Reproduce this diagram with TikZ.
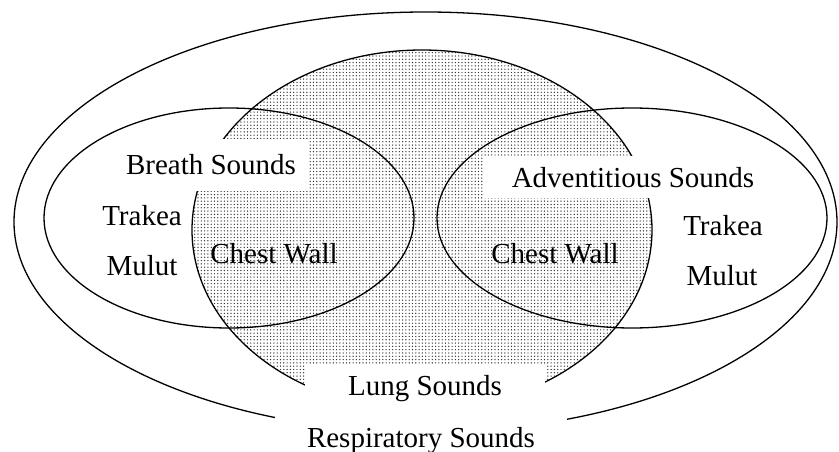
\documentclass[tikz,border=0pt]{standalone}
\usepackage{fontspec}
\setmainfont{Liberation Serif}
\usetikzlibrary{patterns}
\pgfdeclarepatternformonly{lungdots}{\pgfqpoint{-1pt}{-1pt}}{\pgfqpoint{1pt}{1pt}}{\pgfqpoint{3.3pt}{3.3pt}}%
  {\pgfpathcircle{\pgfqpoint{0pt}{0pt}}{0.7pt}\pgfusepath{fill}}

\begin{document}
\begin{tikzpicture}[x=1pt,y=-1pt,
  lbl/.style={font=\fontsize{29}{34}\selectfont,inner sep=0pt,anchor=base},
  cover/.style={lbl,fill=white},
  ring/.style={line width=1.3pt}]
\useasboundingbox (0,0) rectangle (839,452);
% outer set and the shaded lung set
\draw[ring] (425.5,222) ellipse [x radius=411.5,y radius=210];
\draw[ring,pattern=lungdots,pattern color=black!80] (422,230) ellipse [x radius=230,y radius=180];
% titles sit on white boxes that cut the outlines
\node[cover,inner xsep=12pt,inner ysep=16pt] (breath) at (211,175) {Breath Sounds};
\node[cover,inner xsep=28pt,inner ysep=11pt] (advent) at (633,187) {Adventitious Sounds};
\node[cover,inner xsep=43pt,inner ysep=10pt] (lung) at (425,395) {Lung Sounds};
\node[cover,inner xsep=32pt,inner ysep=20pt] (resp) at (421,447) {Respiratory Sounds};
% breath and adventitious sets
\draw[ring] (229,218) ellipse [x radius=185,y radius=110];
\draw[ring] (632,218) ellipse [x radius=195,y radius=110];
\node[lbl] (trakeaL) at (142,225) {Trakea};
\node[lbl] (mulutL) at (142,275) {Mulut};
\node[lbl] (chestL) at (274,263) {Chest Wall};
\node[lbl] (chestR) at (555,263) {Chest Wall};
\node[lbl] (trakeaR) at (723,235) {Trakea};
\node[lbl] (mulutR) at (722,285) {Mulut};
\end{tikzpicture}
\end{document}
